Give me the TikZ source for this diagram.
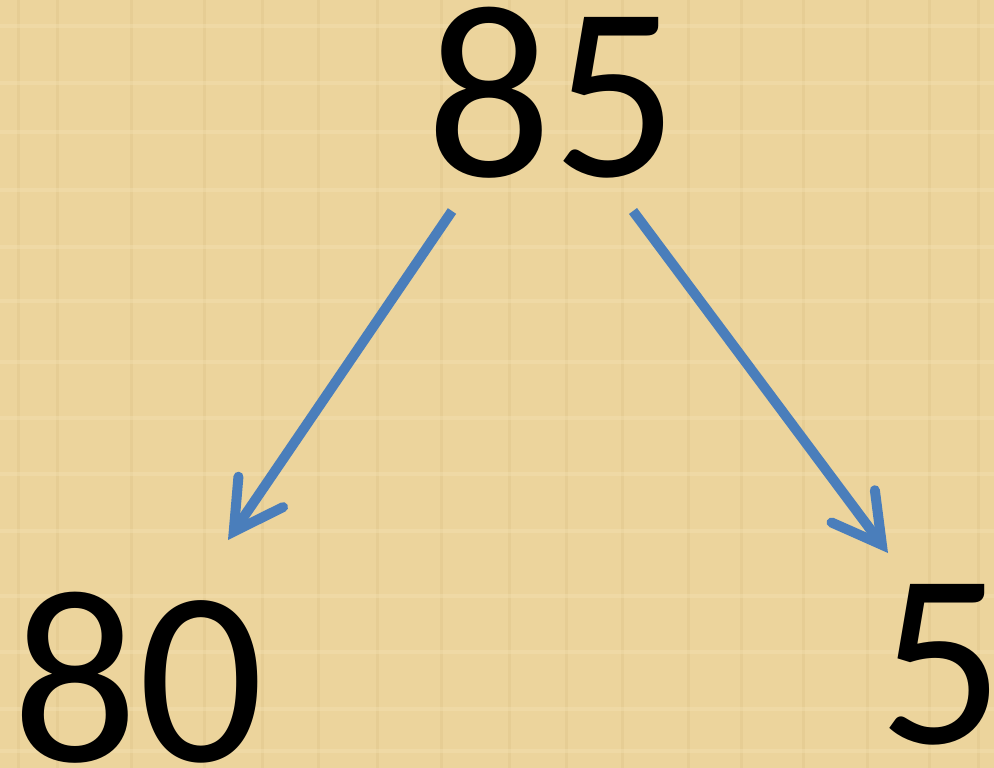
\documentclass[tikz,border=0pt]{standalone}
\usepackage{fontspec}
\setmainfont{Carlito}
\usepackage{xcolor}
\usetikzlibrary{arrows.meta}

\definecolor{papyrus}{HTML}{ECD49C}
\definecolor{papyrusdark}{HTML}{D9BE82}
\definecolor{papyruslight}{HTML}{F4E2B4}
\definecolor{arrowblue}{HTML}{4A7EBB}

\tikzset{
	number/.style={font=\fontsize{248}{248}\selectfont, inner sep=0, anchor=base},
	split/.style={color=arrowblue, line width=10pt,
		-{Straight Barb[length=48pt, width=54pt, line width=10pt, line cap=round, line join=miter]}}
}

\begin{document}
\begin{tikzpicture}[x=1pt, y=-1pt]

\fill[papyrus] (0,0) rectangle (994,768);
\useasboundingbox (0,0) rectangle (994,768);

% papyrus fibres
\foreach \a in {18,57,131,204,262,318,377,441,509,566,622,688,741,803,867,929,978}{
	\draw[color=papyrusdark, opacity=0.3, line width=3] (\a,0)--(\a,768);
}
\foreach \a in {26,83,132,190,247,301,362,418,474,531,596,652,709,751}{
	\draw[color=papyruslight, opacity=0.4, line width=4] (0,\a)--(994,\a);
}

\node[number] (top) at (552,176) {85};
\node[number] (left) at (138,761) {80};
\node[number] (right) at (941,743) {5};

\coordinate (topl) at (452,211);
\coordinate (topr) at (633,211);
\coordinate (leftt) at (228,540);
\coordinate (rightt) at (888,553);

\draw[split] (topl)--(leftt);
\draw[split] (topr)--(rightt);

\end{tikzpicture}
\end{document}
